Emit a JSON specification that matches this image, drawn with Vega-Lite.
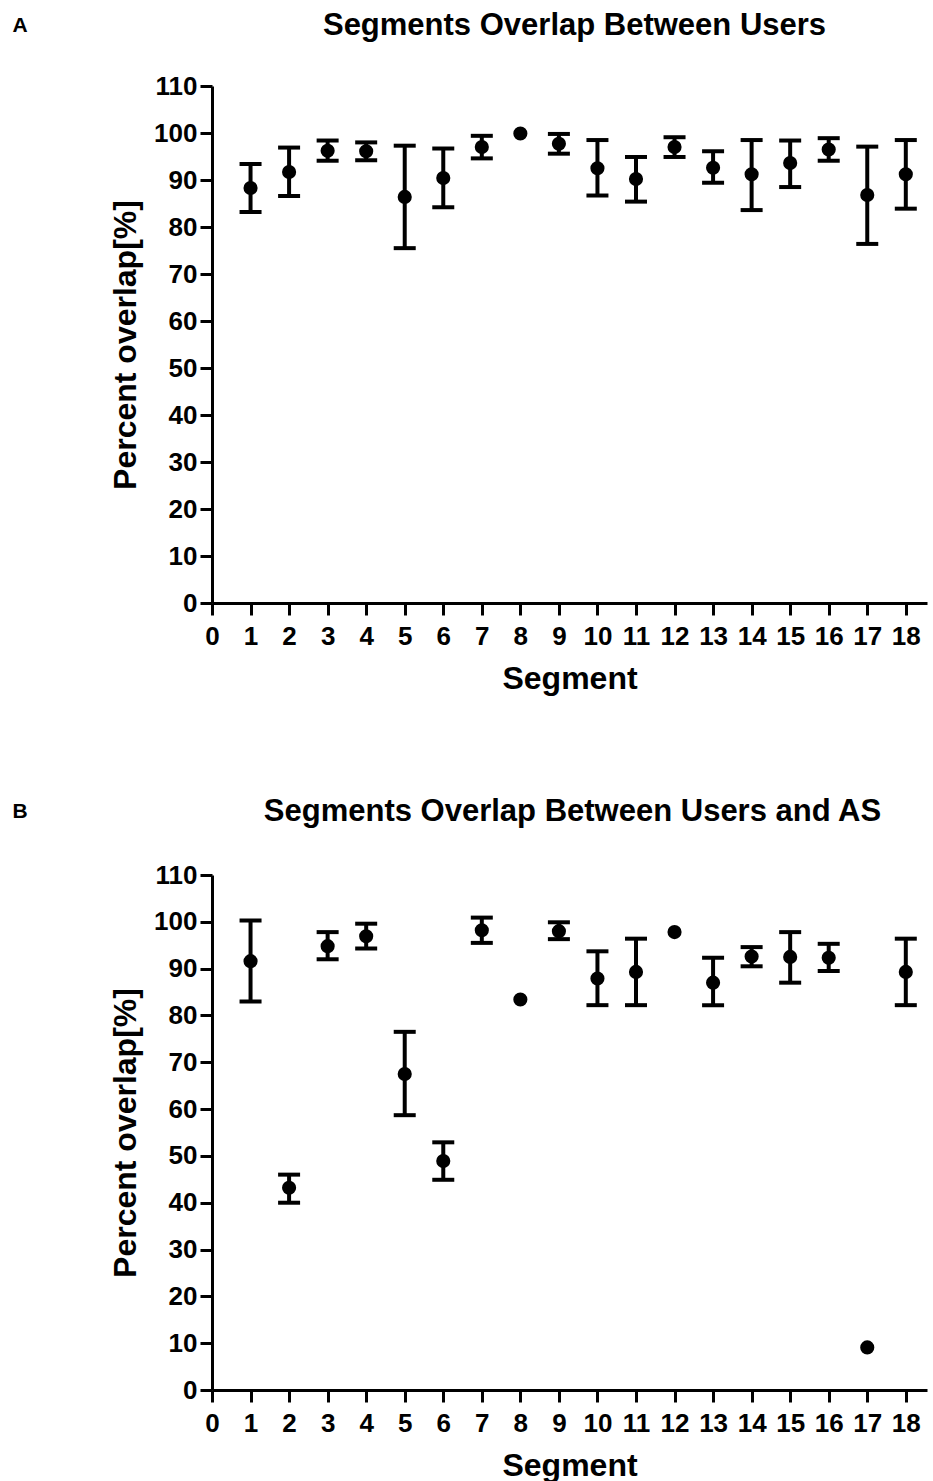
{
  "$schema": "https://vega.github.io/schema/vega-lite/v6.json",
  "background": "white",
  "padding": {"left": 12, "top": 10, "right": 2, "bottom": 2},
  "spacing": 102,
  "config": {
    "view": {"stroke": null},
    "font": "Liberation Sans",
    "axis": {
      "grid": false,
      "domainColor": "black",
      "domainWidth": 3,
      "tickColor": "black",
      "tickWidth": 3,
      "tickSize": 12,
      "labelColor": "black",
      "labelFont": "Liberation Sans",
      "labelFontWeight": "bold",
      "labelFontSize": 26,
      "titleColor": "black",
      "titleFont": "Liberation Sans",
      "titleFontWeight": "bold",
      "titleFontSize": 32,
      "labelFlush": false,
      "labelOverlap": false,
      "labelPadding": 3
    },
    "title": {"font": "Liberation Sans", "fontWeight": "bold", "color": "black"}
  },
  "datasets": {
    "A": [
      {"segment": 1, "mean": 88.3, "lo": 83.2, "hi": 93.4},
      {"segment": 2, "mean": 91.7, "lo": 86.6, "hi": 96.9},
      {"segment": 3, "mean": 96.2, "lo": 94.1, "hi": 98.4},
      {"segment": 4, "mean": 96.1, "lo": 94.2, "hi": 98.0},
      {"segment": 5, "mean": 86.4, "lo": 75.5, "hi": 97.3},
      {"segment": 6, "mean": 90.4, "lo": 84.2, "hi": 96.7},
      {"segment": 7, "mean": 97.0, "lo": 94.6, "hi": 99.4},
      {"segment": 8, "mean": 99.9, "lo": null, "hi": null},
      {"segment": 9, "mean": 97.7, "lo": 95.6, "hi": 99.8},
      {"segment": 10, "mean": 92.5, "lo": 86.7, "hi": 98.5},
      {"segment": 11, "mean": 90.2, "lo": 85.4, "hi": 94.9},
      {"segment": 12, "mean": 97.0, "lo": 94.9, "hi": 99.1},
      {"segment": 13, "mean": 92.6, "lo": 89.4, "hi": 96.1},
      {"segment": 14, "mean": 91.2, "lo": 83.6, "hi": 98.5},
      {"segment": 15, "mean": 93.6, "lo": 88.5, "hi": 98.4},
      {"segment": 16, "mean": 96.5, "lo": 94.1, "hi": 98.9},
      {"segment": 17, "mean": 86.8, "lo": 76.4, "hi": 97.1},
      {"segment": 18, "mean": 91.2, "lo": 83.9, "hi": 98.5}
    ],
    "B": [
      {"segment": 1, "mean": 91.6, "lo": 83.0, "hi": 100.3},
      {"segment": 2, "mean": 43.2, "lo": 40.0, "hi": 46.0},
      {"segment": 3, "mean": 94.8, "lo": 92.0, "hi": 97.8},
      {"segment": 4, "mean": 96.9, "lo": 94.3, "hi": 99.6},
      {"segment": 5, "mean": 67.5, "lo": 58.7, "hi": 76.5},
      {"segment": 6, "mean": 48.9, "lo": 44.9, "hi": 52.9},
      {"segment": 7, "mean": 98.2, "lo": 95.5, "hi": 100.9},
      {"segment": 8, "mean": 83.4, "lo": null, "hi": null},
      {"segment": 9, "mean": 98.0, "lo": 96.3, "hi": 99.9},
      {"segment": 10, "mean": 87.9, "lo": 82.2, "hi": 93.7},
      {"segment": 11, "mean": 89.3, "lo": 82.2, "hi": 96.4},
      {"segment": 12, "mean": 97.8, "lo": null, "hi": null},
      {"segment": 13, "mean": 87.0, "lo": 82.2, "hi": 92.3},
      {"segment": 14, "mean": 92.6, "lo": 90.5, "hi": 94.6},
      {"segment": 15, "mean": 92.5, "lo": 87.0, "hi": 97.8},
      {"segment": 16, "mean": 92.3, "lo": 89.5, "hi": 95.3},
      {"segment": 17, "mean": 9.1, "lo": null, "hi": null},
      {"segment": 18, "mean": 89.3, "lo": 82.2, "hi": 96.4}
    ]
  },
  "vconcat": [
    {
      "title": {"text": "A", "anchor": "start", "fontSize": 21, "dx": -97, "offset": -26},
      "vconcat": [
        {
          "data": {"name": "A"},
          "width": 715,
          "height": 517,
          "title": {"text": "Segments Overlap Between Users", "fontSize": 31, "anchor": "middle", "offset": 31, "dx": 5},
          "encoding": {
            "x": {
              "field": "segment", "type": "quantitative",
              "scale": {"domain": [0, 18.55], "nice": false, "zero": false},
              "axis": {"values": [0,1,2,3,4,5,6,7,8,9,10,11,12,13,14,15,16,17,18], "title": "Segment", "titlePadding": 14, "labelPadding": 8}
            }
          },
          "layer": [
            {
              "mark": {"type": "errorbar", "color": "black", "opacity": 1, "ticks": {"size": 22, "thickness": 4, "color": "black", "opacity": 1}, "rule": {"strokeWidth": 4, "color": "black", "opacity": 1}},
              "encoding": {
                "y": {"field": "lo", "type": "quantitative",
                  "scale": {"domain": [0, 110], "nice": false},
                  "axis": {"values": [0,10,20,30,40,50,60,70,80,90,100,110], "title": "Percent overlap[%]", "titlePadding": 11}},
                "y2": {"field": "hi"}
              }
            },
            {
              "mark": {"type": "point", "filled": true, "size": 200, "color": "black", "opacity": 1},
              "encoding": {"y": {"field": "mean", "type": "quantitative"}}
            }
          ]
        }
      ]
    },
    {
      "title": {"text": "B", "anchor": "start", "fontSize": 21, "dx": -97, "offset": -26},
      "vconcat": [
        {
          "data": {"name": "B"},
          "width": 715,
          "height": 515,
          "title": {"text": "Segments Overlap Between Users and AS", "fontSize": 31, "anchor": "middle", "offset": 34, "dx": 3},
          "encoding": {
            "x": {
              "field": "segment", "type": "quantitative",
              "scale": {"domain": [0, 18.55], "nice": false, "zero": false},
              "axis": {"values": [0,1,2,3,4,5,6,7,8,9,10,11,12,13,14,15,16,17,18], "title": "Segment", "titlePadding": 14, "labelPadding": 8}
            }
          },
          "layer": [
            {
              "mark": {"type": "errorbar", "color": "black", "opacity": 1, "ticks": {"size": 22, "thickness": 4, "color": "black", "opacity": 1}, "rule": {"strokeWidth": 4, "color": "black", "opacity": 1}},
              "encoding": {
                "y": {"field": "lo", "type": "quantitative",
                  "scale": {"domain": [0, 110], "nice": false},
                  "axis": {"values": [0,10,20,30,40,50,60,70,80,90,100,110], "title": "Percent overlap[%]", "titlePadding": 11}},
                "y2": {"field": "hi"}
              }
            },
            {
              "mark": {"type": "point", "filled": true, "size": 200, "color": "black", "opacity": 1},
              "encoding": {"y": {"field": "mean", "type": "quantitative"}}
            }
          ]
        }
      ]
    }
  ]
}
